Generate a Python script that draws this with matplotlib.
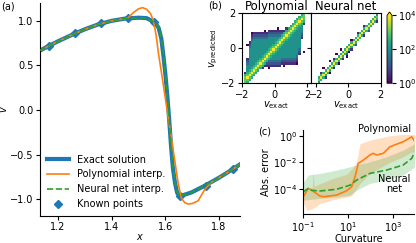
import numpy as np
import matplotlib.pyplot as plt
from matplotlib.colors import LogNorm
from matplotlib.ticker import NullLocator

plt.rcParams.update({
    'font.size': 7.0,
    'axes.linewidth': 0.8,
    'xtick.major.size': 2.6, 'ytick.major.size': 2.6,
    'xtick.major.width': 0.8, 'ytick.major.width': 0.8,
    'xtick.major.pad': 2, 'ytick.major.pad': 2,
})

# ---- (a) solution profiles ----
x_exact = [1.133, 1.168, 1.2, 1.25, 1.3, 1.35, 1.4, 1.45, 1.5, 1.53, 1.55, 1.565, 1.575,
           1.585, 1.593, 1.6, 1.607, 1.614, 1.621, 1.628, 1.636, 1.644, 1.652, 1.66,
           1.697, 1.747, 1.8, 1.852, 1.878]
v_exact = [0.666, 0.722, 0.77, 0.84, 0.905, 0.96, 1.0, 1.025, 1.035, 1.03, 1.0, 0.965, 0.92,
           0.8, 0.6, 0.4, 0.17, -0.1, -0.4, -0.65, -0.82, -0.93, -0.965, -0.962,
           -0.926, -0.85, -0.76, -0.663, -0.61]

x_poly = [1.133, 1.168, 1.2, 1.25, 1.3, 1.35, 1.4, 1.46, 1.48, 1.5, 1.515, 1.53, 1.545,
          1.553, 1.56, 1.566, 1.574, 1.59, 1.605, 1.62, 1.635, 1.648, 1.66, 1.672, 1.685,
          1.7, 1.722, 1.747, 1.772, 1.8, 1.852, 1.878]
v_poly = [0.666, 0.722, 0.77, 0.84, 0.905, 0.96, 1.0, 1.03, 1.09, 1.135, 1.148, 1.13, 1.08,
          1.02, 0.93, 0.83, 0.64, 0.33, 0.03, -0.27, -0.57, -0.83, -0.99, -1.04, -1.056,
          -1.05, -1.02, -0.89, -0.81, -0.76, -0.663, -0.61]

x_nn = [1.133, 1.168, 1.2, 1.25, 1.3, 1.35, 1.4, 1.45, 1.5, 1.53, 1.55, 1.565, 1.575,
        1.585, 1.593, 1.6, 1.607, 1.614, 1.621, 1.628, 1.636, 1.644, 1.652, 1.66,
        1.697, 1.747, 1.8, 1.852, 1.878]
v_nn = [0.668, 0.722, 0.77, 0.84, 0.905, 0.96, 1.0, 1.026, 1.035, 1.03, 1.0, 0.968, 0.925,
        0.81, 0.62, 0.41, 0.18, -0.09, -0.39, -0.64, -0.81, -0.925, -0.96, -0.958,
        -0.925, -0.85, -0.76, -0.663, -0.61]

x_known = [1.166, 1.264, 1.362, 1.46, 1.558, 1.655, 1.752, 1.851]
v_known = [0.722, 0.866, 0.972, 1.03, 0.985, -0.963, -0.85, -0.663]

# ---- (b) 2D histograms: rows from top (v_pred ~ 2) to bottom, (first column, codes)
# code c -> count 10**(c/2), '.' -> empty; 30 x 30 bins on [-2, 2]
hist_poly = [
    (27, "56"), (26, "566"), (25, "5686"), (24, "56865"), (23, "568651"),
    (22, "568654"), (16, "0...15686544"), (10, "0.1111111156865444"),
    (4, "011111112222222568654443"), (4, "122222223333335686544442"),
    (4, "233333334444456865444441"), (4, "34444444444456865444444"),
    (3, "144444444444568654444444"), (2, "0244444444445686544444444"),
    (3, "344444444456865444444444"), (3, "444444444568654444444443"),
    (3, "444444445686544444444442.0"), (3, "444444456865444444444441"),
    (3, "44444456865444444444443"), (2, "144444568654444433333332"),
    (2, "244445686533333322222221"), (2, "344456865222222211111110"),
    (2, "4445686511111111.0"), (2, "44568651..0"), (2, "456865"),
    (1, "156865"), (1, "56865"), (1, "6865"), (1, "665"), (1, "65"),
]
hist_nn = [
    (28, "4"), (27, "56"), (26, "585"), (25, "5851"), (24, "585"), (22, "1585"),
    (22, "585"), (21, "5852"), (19, "1585"), (19, "5851"), (18, "585"), (16, "0585"),
    (16, "585"), (15, "5852"), (14, "585"), (11, "0.5851"), (12, "5850"),
    (9, "0.5852"), (10, "585.0"), (8, "15851"), (6, "0.585"), (7, "5850"),
    (6, "585"), (3, "0.5851"), (4, "585"), (2, "15850"), (2, "585"), (1, "5851"),
    (1, "65"), (1, "4"),
]
hist_edges = np.linspace(-2, 2, 31)

# ---- (c) error vs curvature (log10 values) ----
lc_poly = [-1, -0.78, -0.63, -0.26, -0.11, 0.48, 0.93, 1.15, 1.3, 1.44, 1.67, 1.96,
           2.11, 2.26, 2.56, 2.85, 3.44, 3.82, 3.96]
le_poly = [-4.58, -3.96, -4.08, -4.53, -4.58, -4.46, -4.13, -3.83, -3.08, -2.08, -1.83,
           -1.45, -1.32, -1.45, -1.32, -0.83, -0.45, -0.08, -0.45]
lc_poly_band = [-1, -0.85, -0.6, -0.56, -0.52, -0.26, 0.33, 0.93, 1.15, 1.37, 1.52,
                1.96, 2.85, 3.44, 3.96]
le_poly_hi = [-4.2, -3.9, -3.9, -2.6, -3.8, -3.6, -3.2, -2.9, -2.5, -1.96, -0.6,
              -0.33, 0.0, 0.1, 0.1]
le_poly_lo = [-5.0, -5.6, -5.5, -5.4, -5.4, -5.1, -4.8, -4.6, -4.5, -4.0, -3.6,
              -2.83, -2.0, -1.58, -1.08]

lc_nn = [-1, -0.78, -0.63, -0.26, 0.48, 1.08, 1.37, 1.96, 2.7, 3.44, 3.82, 4.04]
le_nn = [-4.21, -3.96, -4.1, -4.15, -4.02, -3.71, -3.33, -2.83, -2.58, -2.2, -1.7, -0.83]
lc_nn_band = [-1, -0.78, -0.26, 0.48, 1.08, 1.37, 1.96, 2.7, 3.44, 3.96]
le_nn_hi = [-3.5, -2.95, -2.83, -2.58, -2.33, -2.2, -1.96, -1.58, -1.08, -0.58]
le_nn_lo = [-4.83, -4.8, -4.7, -4.6, -4.46, -4.08, -3.58, -3.33, -2.95, -2.33]


W, H = 416, 243


def box(x0, y0, x1, y1):
    return [x0 / W, 1 - y1 / H, (x1 - x0) / W, (y1 - y0) / H]


def decode(rows):
    grid = np.full((30, 30), np.nan)
    for r, (start, codes) in enumerate(rows):
        for k, ch in enumerate(codes):
            if ch != '.':
                grid[29 - r, start + k] = 10 ** (int(ch) / 2)
    return grid


fig = plt.figure(figsize=(W / 100, H / 100), dpi=100)

# (a)
ax = fig.add_axes(box(40, 3, 240, 216))
ax.plot(x_exact, v_exact, color='C0', lw=3, zorder=1, label='Exact solution')
ax.plot(x_poly, v_poly, color='C1', lw=1.2, zorder=2, label='Polynomial interp.')
ax.plot(x_nn, v_nn, color='C2', lw=1.2, ls='--', zorder=3, label='Neural net interp.')
ax.plot(x_known, v_known, 'D', color='C0', ms=4.5, zorder=1.5, label='Known points')
ax.set_xlim(1.133, 1.878)
ax.set_ylim(-1.19, 1.2)
ax.set_xticks([1.2, 1.4, 1.6, 1.8])
ax.set_yticks([-1.0, -0.5, 0.0, 0.5, 1.0])
ax.set_xlabel('$x$', labelpad=0)
ax.set_ylabel('$v$', labelpad=1)
for s in ['top', 'right']:
    ax.spines[s].set_visible(False)
ax.legend(loc='lower left', frameon=False, handlelength=2.3, borderaxespad=0.3)
fig.text(0.002, 0.995, '(a)', ha='left', va='top')

# (b)
norm = LogNorm(1, 1e4)
axb1 = fig.add_axes(box(241.7, 13.3, 311.2, 83.3))
axb2 = fig.add_axes(box(311.2, 13.3, 380.5, 83.3))
for axb, rows, title, xlim in [(axb1, hist_poly, 'Polynomial', (-2.02, 2.25)),
                               (axb2, hist_nn, 'Neural net', (-2.3, 2.0))]:
    mesh = axb.pcolormesh(hist_edges, hist_edges, decode(rows), cmap='viridis', norm=norm)
    axb.set_xlim(*xlim)
    axb.set_ylim(-2, 2)
    axb.set_xticks([-2, 0, 2])
    axb.set_yticks([-2, 0, 2])
    axb.set_title(title, pad=2)
    axb.set_xlabel(r'$v_\mathrm{exact}$', labelpad=0)
axb1.set_ylabel(r'$v_\mathrm{predicted}$', labelpad=1)
axb2.set_yticklabels([])
cax = fig.add_axes(box(387, 12, 392, 83.3))
cb = fig.colorbar(mesh, cax=cax, extend='max', ticks=[1, 1e2, 1e4])
cb.ax.yaxis.set_minor_locator(NullLocator())
cb.outline.set_linewidth(0.6)
fig.text(208 / W, 1 - 1 / H, '(b)', ha='left', va='top')

# (c)
axc = fig.add_axes(box(303.3, 130, 414, 214.3))
axc.fill_between(10.0 ** np.array(lc_poly_band), 10.0 ** np.array(le_poly_lo),
                 10.0 ** np.array(le_poly_hi), color='C1', alpha=0.25, lw=0)
axc.fill_between(10.0 ** np.array(lc_nn_band), 10.0 ** np.array(le_nn_lo),
                 10.0 ** np.array(le_nn_hi), color='C2', alpha=0.22, lw=0)
axc.plot(10.0 ** np.array(lc_poly), 10.0 ** np.array(le_poly), color='C1', lw=1.2)
axc.plot(10.0 ** np.array(lc_nn), 10.0 ** np.array(le_nn), color='C2', lw=1.2, ls='--')
axc.set_xscale('log')
axc.set_yscale('log')
axc.set_xlim(10 ** -1, 10 ** 3.92)
axc.set_ylim(10 ** -5.9, 10 ** 0.43)
axc.set_xticks([1e-1, 1e1, 1e3])
axc.set_yticks([1e-4, 1e-2, 1e0])
axc.xaxis.set_minor_locator(NullLocator())
axc.yaxis.set_minor_locator(NullLocator())
for s in ['top', 'right']:
    axc.spines[s].set_visible(False)
axc.set_xlabel('Curvature', labelpad=0)
axc.set_ylabel('Abs. error', labelpad=1)
axc.text(390, 10 ** 0.5, 'Polynomial', ha='center', va='center')
axc.text(1070, 10 ** -3.63, 'Neural\nnet', ha='center', va='center', multialignment='center',
         linespacing=1.0)
fig.text(258 / W, 1 - 127 / H, '(c)', ha='left', va='top')

fig.savefig('out.png', dpi=100)
